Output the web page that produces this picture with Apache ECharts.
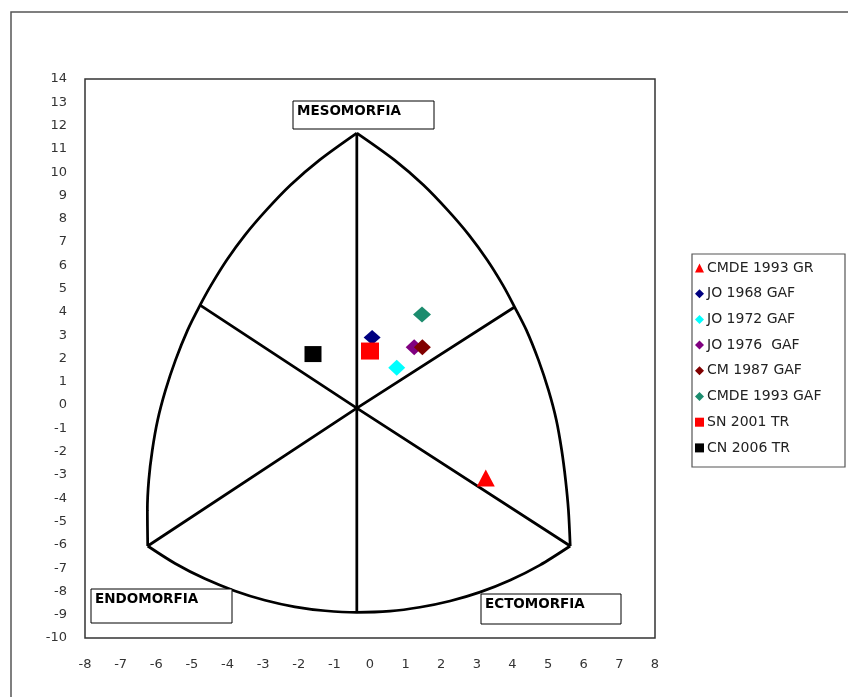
<!DOCTYPE html>
<html>
<head>
<meta charset="utf-8">
<title>Somatocarta</title>
<script src="https://cdn.jsdelivr.net/npm/echarts@6/dist/echarts.min.js"></script>
<style>
  html, body { margin: 0; padding: 0; background: #ffffff; }
  #chart { width: 848px; height: 697px; }
</style>
</head>
<body>
<div id="chart"></div>
<script>
// Axis ranges and tick labels
const xTicks = [-8, -7, -6, -5, -4, -3, -2, -1, 0, 1, 2, 3, 4, 5, 6, 7, 8];
const yTicks = [-10, -9, -8, -7, -6, -5, -4, -3, -2, -1, 0, 1, 2, 3, 4, 5, 6, 7, 8, 9, 10, 11, 12, 13, 14];

// Somatochart outline (x = ecto - endo, y = 2*meso - (endo + ecto))
const centro = [-0.37, -0.13];
const vMeso = [-0.37, 11.68];
const vInferior = [-0.37, -8.90];
const vSupIzq = [-4.77, 4.29];
const vSupDer = [4.06, 4.21];
const vEndo = [-6.24, -6.05];
const vEcto = [5.62, -6.05];

const arcoIzquierdo = [
  [-0.37, 11.68], [-1.42, 10.52], [-2.23, 9.45], [-2.91, 8.37], [-3.51, 7.30],
  [-4.02, 6.23], [-4.46, 5.15], [-4.77, 4.29], [-5.12, 3.22], [-5.46, 1.93],
  [-5.74, 0.64], [-5.96, -0.64], [-6.11, -1.93], [-6.21, -3.22], [-6.25, -4.51],
  [-6.24, -6.05]
];
const arcoDerecho = [
  [-0.37, 11.68], [0.69, 10.52], [1.50, 9.45], [2.18, 8.37], [2.78, 7.30],
  [3.29, 6.23], [3.73, 5.15], [4.06, 4.21], [4.39, 3.22], [4.73, 1.93],
  [5.01, 0.64], [5.23, -0.64], [5.38, -1.93], [5.49, -3.22], [5.57, -4.51],
  [5.62, -6.05]
];
const arcoInferior = [
  [-6.24, -6.05], [-5.47, -6.80], [-4.63, -7.46], [-3.79, -7.98], [-2.95, -8.38],
  [-2.11, -8.66], [-1.26, -8.83], [-0.37, -8.90], [0.56, -8.85], [1.40, -8.68],
  [2.25, -8.41], [3.09, -8.03], [3.93, -7.52], [4.77, -6.87], [5.62, -6.05]
];

// Somatopoints per group
const grupos = ['CMDE 1993 GR', 'JO 1968 GAF', 'JO 1972 GAF', 'JO 1976  GAF', 'CM 1987 GAF', 'CMDE 1993 GAF', 'SN 2001 TR', 'CN 2006 TR'];
const puntos = [
  [3.25, -3.13],
  [0.06, 2.90],
  [0.75, 1.60],
  [1.24, 2.48],
  [1.47, 2.48],
  [1.46, 3.89],
  [0.00, 2.32],
  [-1.60, 2.19]
];
const colores = ['#ff0000', '#000080', '#00ffff', '#800080', '#800000', '#1c8c6e', '#ff0000', '#000000'];
const simbolos = ['triangle', 'diamond', 'diamond', 'diamond', 'diamond', 'diamond', 'rect', 'rect'];
const tamanos = [[18, 17], [17, 15], [17, 16], [17, 16], [17, 16], [18, 16], [18, 17], [17, 16]];

const FUENTE = '"DejaVu Sans", "Liberation Sans", Arial, sans-serif';

const chart = echarts.init(document.getElementById('chart'), null, { renderer: 'canvas' });

const trazo = (nombre, datos, suave) => ({
  name: nombre,
  type: 'line',
  data: datos,
  smooth: suave ? 0.3 : false,
  showSymbol: false,
  symbol: 'none',
  silent: true,
  lineStyle: { color: '#000000', width: 2.75 },
  z: 1
});

const seriesPuntos = grupos.map((g, i) => ({
  name: g,
  type: 'scatter',
  data: [puntos[i]],
  symbol: simbolos[i],
  symbolSize: tamanos[i],
  itemStyle: { color: colores[i], opacity: 1 },
  z: 5 + i
}));

const cajaTexto = (x, y, w, h, texto) => ({
  type: 'group',
  children: [
    {
      type: 'rect',
      shape: { x: x, y: y, width: w, height: h },
      style: { fill: '#ffffff', stroke: '#000000', lineWidth: 1 },
      z: 20
    },
    {
      type: 'text',
      x: x + 4,
      y: y + 3,
      style: {
        text: texto,
        fill: '#000000',
        font: 'bold 13.5px ' + FUENTE,
        textVerticalAlign: 'top'
      },
      z: 21
    }
  ]
});

const option = {
  backgroundColor: '#ffffff',
  animation: false,
  grid: {
    left: 85, right: 193, top: 79, bottom: 59,
    show: true,
    borderColor: '#333333',
    borderWidth: 1.5,
    backgroundColor: 'transparent'
  },
  xAxis: {
    type: 'value',
    min: xTicks[0],
    max: xTicks[xTicks.length - 1],
    interval: 1,
    axisLine: { show: false },
    axisTick: { show: false },
    splitLine: { show: false },
    axisLabel: {
      margin: 20,
      color: '#333333',
      fontSize: 13,
      fontFamily: FUENTE,
      formatter: v => String(v)
    }
  },
  yAxis: {
    type: 'value',
    min: yTicks[0],
    max: yTicks[yTicks.length - 1],
    interval: 1,
    axisLine: { show: false },
    axisTick: { show: false },
    splitLine: { show: false },
    axisLabel: {
      margin: 18,
      color: '#333333',
      fontSize: 13,
      fontFamily: FUENTE,
      formatter: v => String(v)
    }
  },
  legend: {
    data: grupos.map((g, i) => ({ name: g, icon: simbolos[i] })),
    orient: 'vertical',
    left: 695,
    top: 261,
    padding: 0,
    itemWidth: 9,
    itemHeight: 9,
    itemGap: 11.7,
    selectedMode: false,
    textStyle: {
      fontFamily: FUENTE,
      fontSize: 14,
      lineHeight: 14,
      color: '#222222',
      padding: [0, 0, 0, -2]
    }
  },
  graphic: [
    {
      type: 'rect',
      shape: { x: 11, y: 12, width: 860, height: 720 },
      style: { fill: 'none', stroke: '#555555', lineWidth: 1.5 },
      z: 0,
      silent: true
    },
    {
      type: 'rect',
      shape: { x: 692, y: 254, width: 153, height: 213 },
      style: { fill: 'none', stroke: '#555555', lineWidth: 1.2 },
      z: 0,
      silent: true
    },
    cajaTexto(293, 101, 141, 28, 'MESOMORFIA'),
    cajaTexto(91, 589, 141, 34, 'ENDOMORFIA'),
    cajaTexto(481, 594, 140, 30, 'ECTOMORFIA')
  ],
  series: [
    trazo('arco izquierdo', arcoIzquierdo, true),
    trazo('arco derecho', arcoDerecho, true),
    trazo('arco inferior', arcoInferior, true),
    trazo('eje vertical', [vMeso, centro, vInferior], false),
    trazo('eje endo-ecto sup', [vSupIzq, centro, vEcto], false),
    trazo('eje ecto-endo sup', [vSupDer, centro, vEndo], false),
    ...seriesPuntos
  ]
};

chart.setOption(option);
</script>
</body>
</html>
